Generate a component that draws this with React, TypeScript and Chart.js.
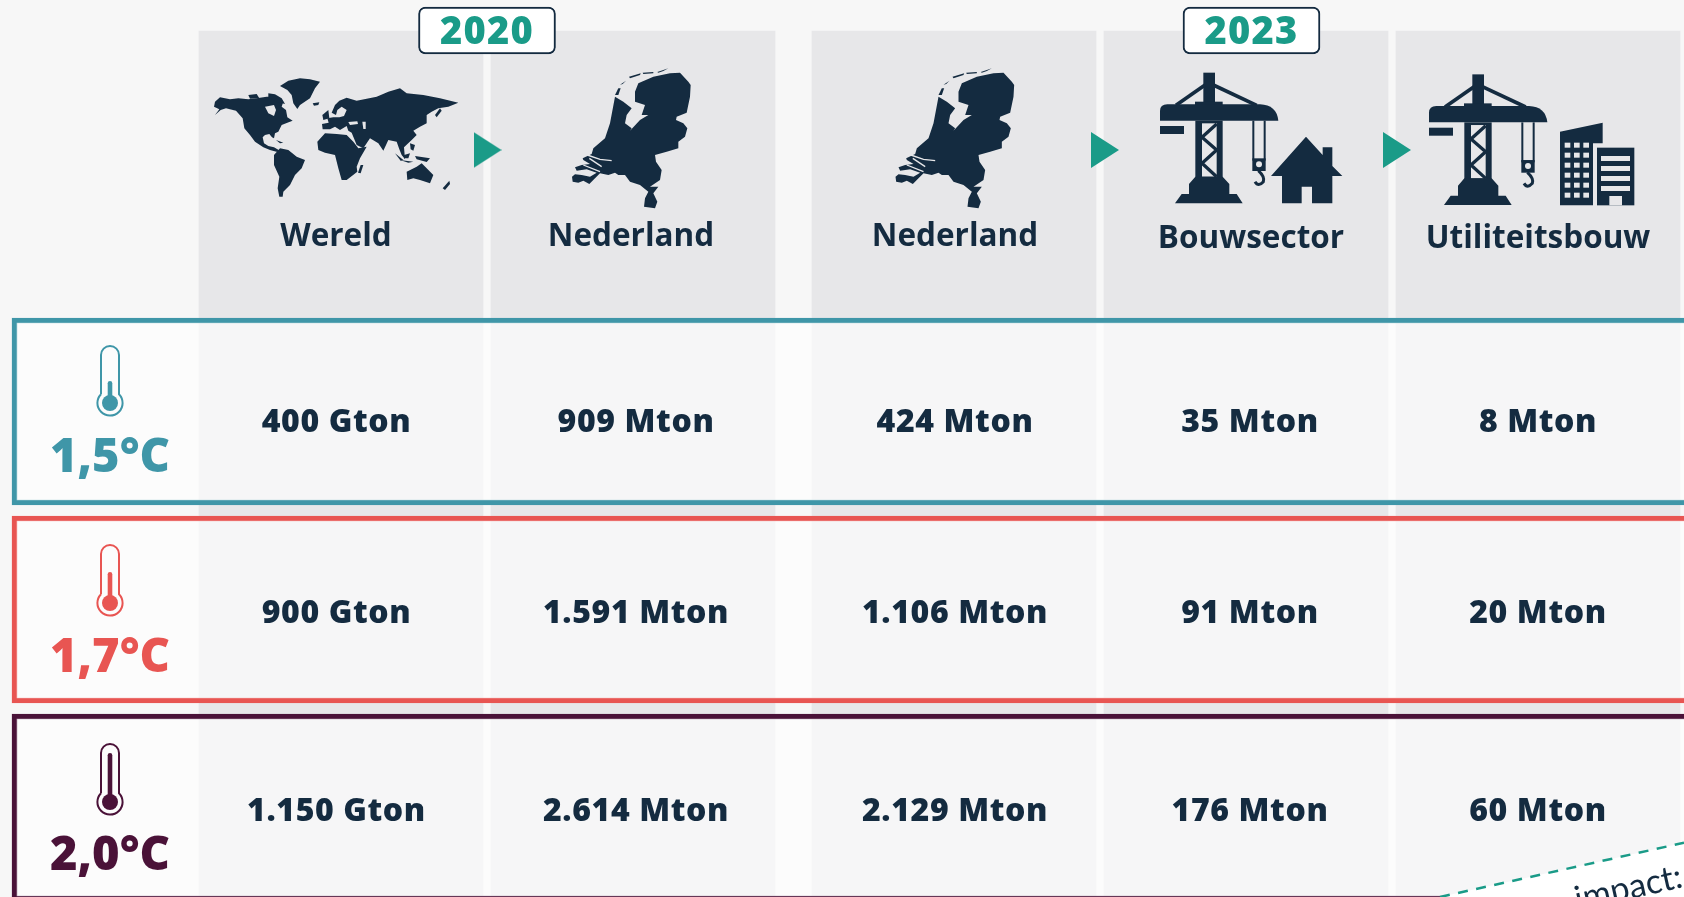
import React, { useEffect, useRef } from "react";
import { Chart, registerables } from "chart.js";

Chart.register(...registerables);

// ---------- data ----------
const years = ["2020", "2023"];
const regions = ["Wereld", "Nederland", "Nederland", "Bouwsector", "Utiliteitsbouw"];
const scenarios = ["1,5°C", "1,7°C", "2,0°C"];
const budget15 = ["400 Gton", "909 Mton", "424 Mton", "35 Mton", "8 Mton"];
const budget17 = ["900 Gton", "1.591 Mton", "1.106 Mton", "91 Mton", "20 Mton"];
const budget20 = ["1.150 Gton", "2.614 Mton", "2.129 Mton", "176 Mton", "60 Mton"];
const budgets = [budget15, budget17, budget20];
const footerText = "e impact:";

// ---------- layout on the chart's two axes ----------
const W = 1684;
const H = 897;
const colCentre = [341, 633, 954, 1246, 1538];
const headerCentre = [336, 631, 955, 1251, 1538];
const valueCentre = [336.5, 636, 955, 1250, 1538];
const headerBase = [246, 246, 246, 248, 248];
const arrowX = [487.5, 1105, 1397];
const arrowY = 150;
const badgeX = [487, 1251.5];
const rowFrames: [number, number][] = [[318, 505], [516, 703], [714, 901]];
const rowColours = ["#3f96a8", "#e85552", "#4a1238"];
const valueBase = [432, 622.5, 821];
const tempBase = [472, 671.7, 870];
const tempX = 110;
const tubeTop = [346, 545, 744];
const bulbY = [403, 603, 802];
const stemTop = [381, 572, 753];
const dashedEdge = [{ x: 1440, y: 897 }, { x: 1684, y: 842.7 }];

const NAVY = "#142b40";
const TEAL = "#1a9b88";
const PANEL = "#e7e7e9";
const FONT = '"Open Sans"';

// ---------- icon outlines, in the icon's own 3x units ----------
type P = number[];
const worldLand: P[] = [
  [45,125,60,112,90,118,115,115,145,118,170,115,200,110,225,110,240,115,250,125,245,140,258,150,262,172,278,182,262,188,245,195,235,215,225,220,222,235,216,232,208,222,195,225,188,232,192,250,205,258,222,262,240,272,232,276,210,270,190,262,165,245,150,225,133,205,128,175,108,152,78,145,62,150,45,165,58,148,42,140],
  [145,105,170,102,178,115,150,116],
  [205,100,225,103,245,115,255,132,228,125,205,112],
  [240,78,265,62,300,55,330,58,360,65,345,85,330,115,300,135,292,147,280,130,275,105,262,90],
  [338,130,358,127,355,135,342,137],
  [222,285,240,265,265,270,290,290,315,300,305,325,285,345,270,375,250,395,248,410,238,410,233,385,238,350,222,315],
  [352,245,375,220,410,222,440,225,460,245,475,265,500,260,480,295,470,320,472,335,440,360,425,360,415,325,405,285,375,278,355,270],
  [482,315,490,315,482,340,474,338],
  [395,158,405,135,418,122,440,113,470,122,530,110,565,95,600,85,620,100,670,105,720,115,775,128,745,140,715,145,695,155,680,165,680,190,660,200,640,212,650,225,635,240,612,262,615,298,605,285,598,268,590,245,565,240,550,272,535,250,515,238,510,235,490,265,470,255,455,218,445,212,440,198,420,210,405,200,390,208,368,208,366,192,386,188,382,175,400,172,418,172,432,168,440,150,425,140,412,150,408,165],
  [620,335,650,320,665,310,680,325,700,345,690,370,660,360,640,355,622,360],
  [748,362,750,372,735,390,728,385],
  [585,280,610,300,602,302],
  [612,285,630,280,625,295,612,295],
  [645,288,690,295,680,306,650,298],
  [705,165,720,145,725,152,710,172],
  [367,165,385,150,388,175,370,180],
  [228,240,250,248,240,250],
  [630,250,645,255,640,272,632,268],
  [600,300,640,305,625,308],
];
const worldHoles: P[] = [
  [195,140,222,135,228,150,222,168,205,160],
  [487,185,497,185,497,207,490,207],
  [445,186,472,184,474,192,450,195],
];
const nlLand: P[] = [
  [390,38,415,65,422,75,420,110,410,158,380,170,378,180,400,190,412,205,405,230,385,245,385,265,350,275,315,285,318,305,335,330,330,360,300,380,325,380,310,400,322,425,315,445,282,440,285,415,295,395,270,375,240,365,225,345,205,345,195,338,175,345,150,340,135,355,118,372,100,362,85,368,68,365,66,350,75,343,95,345,120,350,140,338,110,328,80,332,75,322,95,315,120,312,100,300,98,295,125,282,130,265,165,235,180,190,195,110,220,125,245,145,230,165,225,190,245,205,240,212,270,180,295,165,275,165,285,135,255,125,255,95,265,70,310,50,360,40],
  [195,105,205,85,212,85,205,105],
  [210,74,228,62,218,72],
  [237,50,272,40,270,45,240,55],
  [278,38,310,36,310,40,280,42],
  [322,36,340,30,355,25,340,33,325,38],
];
const nlCuts: P[] = [[112,285,150,298,185,302], [118,295,155,320], [100,315,150,335]];
const craneBase: P = [447,372,466,350,548,350,568,372,568,402,590,402,608,430,405,430,425,402,447,402];
const houseShape: P = [693,348,798,230,848,285,848,262,877,262,877,318,907,348,877,348,877,430,816,430,816,380,785,380,785,430,726,430,726,348];
const towerShape: P = [600,215,728,188,728,250,699,250,699,436,600,436];

// ---------- icon drawing ----------
function poly(ctx: CanvasRenderingContext2D, p: P, colour: string) {
  ctx.beginPath();
  ctx.moveTo(p[0], p[1]);
  for (let i = 2; i < p.length; i += 2) ctx.lineTo(p[i], p[i + 1]);
  ctx.closePath();
  ctx.fillStyle = colour;
  ctx.fill();
}
function polyline(ctx: CanvasRenderingContext2D, p: P, colour: string, width: number) {
  ctx.beginPath();
  ctx.moveTo(p[0], p[1]);
  for (let i = 2; i < p.length; i += 2) ctx.lineTo(p[i], p[i + 1]);
  ctx.strokeStyle = colour;
  ctx.lineWidth = width;
  ctx.stroke();
}
function drawWorld(ctx: CanvasRenderingContext2D) {
  worldLand.forEach((p) => poly(ctx, p, NAVY));
  worldHoles.forEach((p) => poly(ctx, p, PANEL));
}
function drawNL(ctx: CanvasRenderingContext2D) {
  nlLand.forEach((p) => poly(ctx, p, NAVY));
  nlCuts.forEach((p) => polyline(ctx, p, PANEL, 4));
}
function drawCrane(ctx: CanvasRenderingContext2D) {
  ctx.fillStyle = NAVY;
  ctx.fillRect(490, 38, 35, 90);
  polyline(ctx, [495, 75, 408, 136], NAVY, 11);
  polyline(ctx, [520, 75, 650, 136], NAVY, 11);
  ctx.fillStyle = NAVY;
  ctx.fillRect(465, 125, 83, 10);
  ctx.beginPath();
  ctx.moveTo(360, 182);
  ctx.lineTo(360, 153);
  ctx.quadraticCurveTo(360, 133, 382, 133);
  ctx.lineTo(660, 133);
  ctx.quadraticCurveTo(710, 135, 715, 182);
  ctx.closePath();
  ctx.fill();
  ctx.fillRect(360, 198, 72, 24);
  ctx.fillRect(466, 182, 82, 170);
  ctx.fillStyle = PANEL;
  ctx.fillRect(486, 190, 44, 160);
  polyline(ctx, [530, 192, 486, 232, 530, 270, 486, 310, 530, 350], NAVY, 10);
  poly(ctx, craneBase, NAVY);
  ctx.fillStyle = NAVY;
  ctx.fillRect(637, 182, 6, 120);
  ctx.fillRect(671, 182, 6, 120);
  ctx.fillRect(637, 295, 40, 38);
  ctx.fillStyle = PANEL;
  ctx.beginPath();
  ctx.arc(657, 313, 9, 0, Math.PI * 2);
  ctx.fill();
  ctx.beginPath();
  ctx.moveTo(655, 332);
  ctx.quadraticCurveTo(675, 350, 670, 365);
  ctx.quadraticCurveTo(655, 382, 645, 365);
  ctx.strokeStyle = NAVY;
  ctx.lineWidth = 9;
  ctx.stroke();
}
function drawHouse(ctx: CanvasRenderingContext2D) {
  poly(ctx, houseShape, NAVY);
}
function drawOffices(ctx: CanvasRenderingContext2D) {
  poly(ctx, towerShape, NAVY);
  ctx.fillStyle = NAVY;
  ctx.fillRect(711, 263, 112, 173);
  ctx.fillStyle = PANEL;
  [248, 278, 308, 338, 368, 398].forEach((y) =>
    [614, 642, 670].forEach((x) => ctx.fillRect(x, y, 17, 15))
  );
  [288, 318, 348, 378].forEach((y) => ctx.fillRect(723, y, 87, 15));
  ctx.fillRect(748, 408, 38, 28);
}
function drawThermo(ctx: CanvasRenderingContext2D, cx: number, top: number, by: number, sy: number, col: string) {
  const hw = 9, r = 12.6;
  const dy = Math.sqrt(r * r - hw * hw);
  ctx.beginPath();
  ctx.moveTo(cx - hw, by - dy);
  ctx.lineTo(cx - hw, top + hw);
  ctx.arc(cx, top + hw, hw, Math.PI, 0);
  ctx.lineTo(cx + hw, by - dy);
  ctx.arc(cx, by, r, Math.atan2(-dy, hw), Math.atan2(-dy, -hw));
  ctx.strokeStyle = col;
  ctx.lineWidth = 2;
  ctx.stroke();
  ctx.fillStyle = col;
  ctx.beginPath();
  ctx.arc(cx, by, 8, 0, Math.PI * 2);
  ctx.fill();
  ctx.beginPath();
  ctx.roundRect(cx - 2.3, sy, 4.6, by - sy, 2.3);
  ctx.fill();
}
function arrowImage() {
  const c = document.createElement("canvas");
  c.width = 28;
  c.height = 36;
  const g = c.getContext("2d") as CanvasRenderingContext2D;
  g.fillStyle = TEAL;
  g.beginPath();
  g.moveTo(0, 0);
  g.lineTo(28, 18);
  g.lineTo(0, 36);
  g.closePath();
  g.fill();
  return c;
}

// ---------- text + icons, positioned through the chart's scales ----------
const tablePlugin = {
  id: "tableText",
  afterDatasetsDraw(chart: any) {
    const { ctx, scales } = chart;
    const X = (v: number) => scales.x.getPixelForValue(v);
    const Y = (v: number) => scales.y.getPixelForValue(v);
    const text = (s: string, x: number, y: number, font: string, col: string, sp = 0) => {
      ctx.font = font;
      ctx.fillStyle = col;
      (ctx as any).letterSpacing = sp + "px";
      ctx.textAlign = "center";
      ctx.textBaseline = "alphabetic";
      ctx.fillText(s, x, y);
      (ctx as any).letterSpacing = "0px";
    };
    const icon = (ox: number, oy: number, fn: (c: CanvasRenderingContext2D) => void) => {
      ctx.save();
      ctx.translate(X(ox), Y(oy));
      ctx.scale(1 / 3, 1 / 3);
      fn(ctx);
      ctx.restore();
    };
    icon(200, 60, drawWorld);
    icon(550, 60, drawNL);
    icon(873.5, 60, drawNL);
    icon(1040, 60, (c) => { drawCrane(c); drawHouse(c); });
    icon(1309, 61.7, drawCrane);
    icon(1360, 60, drawOffices);

    years.forEach((y, i) => text(y, X(badgeX[i]), Y(44), `800 38px ${FONT}`, TEAL, 1.2));
    regions.forEach((r, i) => text(r, X(headerCentre[i]), Y(headerBase[i]), `700 31.5px ${FONT}`, NAVY, 0));
    budgets.forEach((row, r) =>
      row.forEach((v, c) => text(v, X(valueCentre[c]), Y(valueBase[r]), `800 32px ${FONT}`, NAVY, 0.6))
    );
    scenarios.forEach((s, r) => {
      text(s, X(tempX), Y(tempBase[r]), `800 47px ${FONT}`, rowColours[r], 0);
      drawThermo(ctx, X(tempX), Y(tubeTop[r]), Y(bulbY[r]), Y(stemTop[r]), rowColours[r]);
    });

    ctx.save();
    ctx.translate(X(1684), Y(887));
    ctx.rotate(-Math.atan2(dashedEdge[0].y - dashedEdge[1].y, dashedEdge[1].x - dashedEdge[0].x));
    ctx.font = `400 34px Lato`;
    ctx.fillStyle = NAVY;
    ctx.textAlign = "right";
    ctx.fillText(footerText, 0, 0);
    ctx.restore();
  },
};

export default function App() {
  const ref = useRef<HTMLCanvasElement | null>(null);
  useEffect(() => {
    document.body.style.margin = "0";
    document.body.style.background = "#f7f7f7";
    const chart = new Chart(ref.current as HTMLCanvasElement, {
      type: "bar",
      data: {
        datasets: [
          {
            type: "scatter",
            order: 0,
            data: arrowX.map((x) => ({ x, y: arrowY })),
            pointStyle: arrowImage(),
            radius: 18,
          },
          {
            type: "line",
            order: 1,
            data: dashedEdge,
            borderColor: TEAL,
            borderWidth: 2.5,
            borderDash: [10, 8.5],
            pointRadius: 0,
            backgroundColor: "#ffffff",
            fill: "start",
          },
          {
            order: 2,
            data: badgeX.map((x) => ({ x, y: [7, 54] })),
            barThickness: 137,
            grouped: false,
            backgroundColor: "#ffffff",
            borderColor: NAVY,
            borderWidth: 2,
            borderSkipped: false,
            borderRadius: 7,
          },
          ...rowFrames.map((f, i) => ({
            order: 3 + i,
            data: [{ x: 1012, y: f }],
            barThickness: 2000,
            grouped: false,
            backgroundColor: "rgba(255,255,255,0.63)",
            borderColor: rowColours[i],
            borderWidth: 5,
            borderSkipped: false,
          })),
          {
            order: 10,
            data: colCentre.map((x) => ({ x, y: [31, H] })),
            barThickness: 284,
            grouped: false,
            backgroundColor: PANEL,
          },
        ] as any,
      },
      options: {
        animation: false,
        responsive: false,
        devicePixelRatio: 1,
        layout: { padding: 0, autoPadding: false },
        plugins: { legend: { display: false }, tooltip: { enabled: false } },
        scales: {
          x: { type: "linear", min: 0, max: W, display: false, offset: false },
          y: { type: "linear", min: 0, max: H, reverse: true, display: false },
        },
      } as any,
      plugins: [tablePlugin as any],
    });
    return () => chart.destroy();
  }, []);
  return (
    <div style={{ width: W, height: H, background: "#f7f7f7", overflow: "hidden" }}>
      <canvas ref={ref} width={W} height={H} style={{ display: "block" }} />
    </div>
  );
}
